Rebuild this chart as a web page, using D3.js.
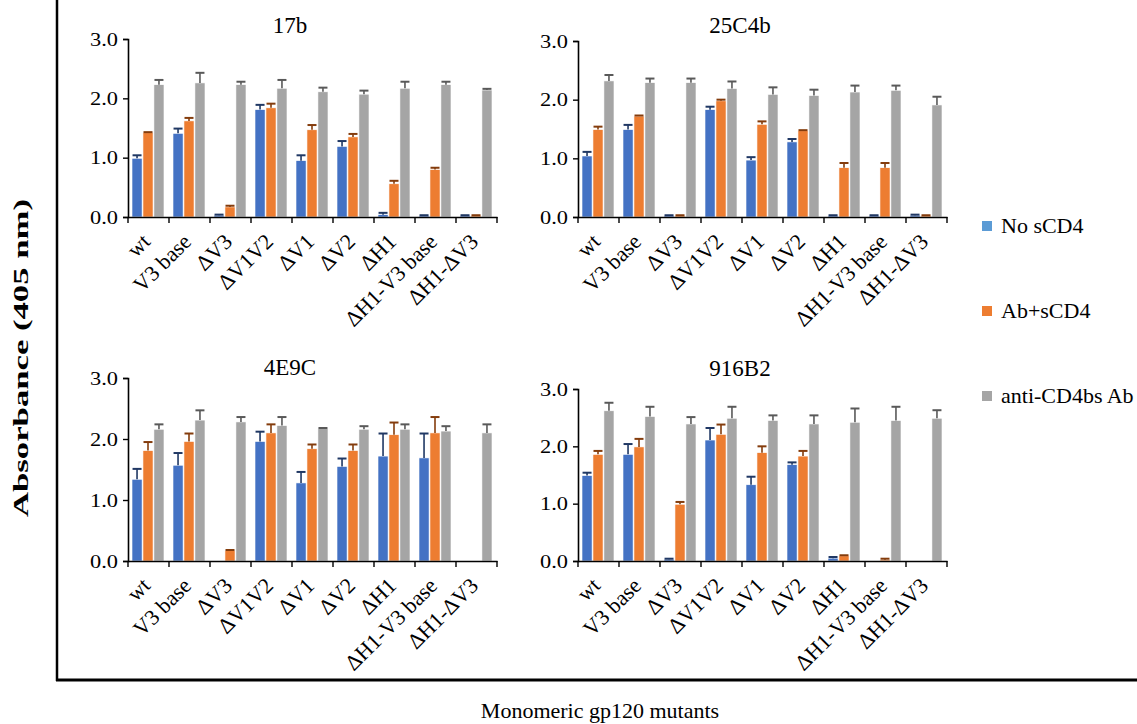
<!DOCTYPE html>
<html>
<head>
<meta charset="utf-8">
<script src="https://cdn.jsdelivr.net/npm/d3@7"></script>
<style>
  body { margin: 0; background: #fff; }
  text { font-family: "Liberation Serif", "Times New Roman", serif; fill: #000; }
</style>
</head>
<body>
<div id="plot"></div>
<script>
var width = 1137, height = 724;

var mutants = ["wt", "V3 base", "ΔV3", "ΔV1V2", "ΔV1", "ΔV2", "ΔH1", "ΔH1-V3 base", "ΔH1-ΔV3"];
var seriesNames = ["No sCD4", "Ab+sCD4", "anti-CD4bs Ab"];
var yTicks = [0, 1, 2, 3];

// 17b
var noCD4_17b      = [0.99, 1.41, 0.03, 1.81, 0.95, 1.19, 0.04, 0.02, 0.02];
var noCD4Err_17b   = [0.05, 0.08, 0.01, 0.08, 0.09, 0.09, 0.03, 0.01, 0.01];
var abCD4_17b      = [1.42, 1.62, 0.17, 1.84, 1.47, 1.35, 0.56, 0.80, 0.02];
var abCD4Err_17b   = [0.01, 0.05, 0.02, 0.07, 0.08, 0.05, 0.05, 0.03, 0.01];
var antiBs_17b     = [2.23, 2.26, 2.23, 2.17, 2.11, 2.07, 2.17, 2.23, 2.14];
var antiBsErr_17b  = [0.08, 0.17, 0.05, 0.14, 0.07, 0.06, 0.11, 0.05, 0.02];

// 25C4b
var noCD4_25C4b     = [1.04, 1.49, 0.02, 1.83, 0.97, 1.28, 0.02, 0.02, 0.03];
var noCD4Err_25C4b  = [0.07, 0.08, 0.01, 0.05, 0.05, 0.05, 0.01, 0.01, 0.01];
var abCD4_25C4b     = [1.49, 1.72, 0.02, 1.98, 1.58, 1.47, 0.84, 0.84, 0.02];
var abCD4Err_25C4b  = [0.05, 0.01, 0.01, 0.02, 0.05, 0.01, 0.08, 0.08, 0.01];
var antiBs_25C4b    = [2.32, 2.29, 2.29, 2.19, 2.09, 2.07, 2.13, 2.16, 1.91];
var antiBsErr_25C4b = [0.10, 0.07, 0.07, 0.12, 0.12, 0.10, 0.11, 0.08, 0.14];

// 4E9C
var noCD4_4E9C     = [1.34, 1.57, 0, 1.96, 1.28, 1.55, 1.72, 1.69, 0];
var noCD4Err_4E9C  = [0.17, 0.20, 0, 0.16, 0.18, 0.13, 0.37, 0.40, 0];
var abCD4_4E9C     = [1.81, 1.96, 0.17, 2.10, 1.84, 1.81, 2.07, 2.10, 0];
var abCD4Err_4E9C  = [0.14, 0.13, 0.01, 0.14, 0.07, 0.10, 0.20, 0.26, 0];
var antiBs_4E9C    = [2.16, 2.31, 2.28, 2.22, 2.17, 2.16, 2.16, 2.13, 2.10];
var antiBsErr_4E9C = [0.08, 0.16, 0.08, 0.14, 0.01, 0.05, 0.08, 0.08, 0.14];

// 916B2
var noCD4_916B2     = [1.49, 1.86, 0.03, 2.11, 1.33, 1.68, 0.05, 0, 0];
var noCD4Err_916B2  = [0.05, 0.18, 0.01, 0.21, 0.14, 0.04, 0.02, 0, 0];
var abCD4_916B2     = [1.86, 1.99, 0.99, 2.21, 1.89, 1.83, 0.09, 0.02, 0];
var abCD4Err_916B2  = [0.06, 0.14, 0.04, 0.17, 0.11, 0.09, 0.01, 0.02, 0];
var antiBs_916B2    = [2.62, 2.52, 2.39, 2.49, 2.45, 2.39, 2.42, 2.45, 2.49];
var antiBsErr_916B2 = [0.14, 0.17, 0.12, 0.20, 0.09, 0.15, 0.24, 0.24, 0.14];

var barColors = ["#4472C4", "#ED7D31", "#A5A5A5"];
var errColors = ["#203864", "#843C0C", "#595959"];
var legendColors = ["#5B9BD5", "#ED7D31", "#A5A5A5"];

var panels = [
  {title: "17b",   x0: 128, x1: 497, yTop: 39,  yBot: 217, titleY: 33,
   vals: [noCD4_17b, abCD4_17b, antiBs_17b], errs: [noCD4Err_17b, abCD4Err_17b, antiBsErr_17b]},
  {title: "25C4b", x0: 578, x1: 947, yTop: 41,  yBot: 217, titleY: 33,
   vals: [noCD4_25C4b, abCD4_25C4b, antiBs_25C4b], errs: [noCD4Err_25C4b, abCD4Err_25C4b, antiBsErr_25C4b]},
  {title: "4E9C",  x0: 128, x1: 497, yTop: 378, yBot: 561, titleY: 375,
   vals: [noCD4_4E9C, abCD4_4E9C, antiBs_4E9C], errs: [noCD4Err_4E9C, abCD4Err_4E9C, antiBsErr_4E9C]},
  {title: "916B2", x0: 578, x1: 947, yTop: 389, yBot: 561, titleY: 376,
   vals: [noCD4_916B2, abCD4_916B2, antiBs_916B2], errs: [noCD4Err_916B2, abCD4Err_916B2, antiBsErr_916B2]}
];

var svg = d3.select("#plot")
  .append("svg")
    .attr("width", width)
    .attr("height", height);

// outer frame (left + bottom)
svg.append("line")
  .attr("x1", 57).attr("y1", 0).attr("x2", 57).attr("y2", 681)
  .attr("stroke", "#000").attr("stroke-width", 2.5);
svg.append("line")
  .attr("x1", 56).attr("y1", 680).attr("x2", width).attr("y2", 680)
  .attr("stroke", "#000").attr("stroke-width", 3);

panels.forEach(function(p) {
  var xScale = d3.scaleBand()
    .domain(mutants)
    .range([p.x0, p.x1]);

  var inner = d3.scaleBand()
    .domain(d3.range(3))
    .range([4, 36])
    .paddingInner(0.08);

  var yScale = d3.scaleLinear()
    .domain([0, 3])
    .range([p.yBot, p.yTop]);

  var g = svg.append("g");

  g.append("text")
    .attr("x", p.x0 + 162)
    .attr("y", p.titleY)
    .attr("text-anchor", "middle")
    .style("font-size", "23px")
    .text(p.title);

  p.vals.forEach(function(series, s) {
    g.selectAll(".bar" + s)
      .data(series)
      .enter()
      .append("rect")
      .attr("x", (d, i) => xScale(mutants[i]) + inner(s))
      .attr("y", d => yScale(d))
      .attr("width", inner.bandwidth())
      .attr("height", d => yScale(0) - yScale(d))
      .attr("fill", barColors[s])
      .attr("stroke", "#fff")
      .attr("stroke-width", 0.6);

    // error bars, top half only
    var errs = p.errs[s];
    series.forEach(function(d, i) {
      if (d === 0 && errs[i] === 0) return;
      var cx = xScale(mutants[i]) + inner(s) + inner.bandwidth() / 2;
      var top = yScale(d + errs[i]);
      g.append("line")
        .attr("x1", cx).attr("x2", cx)
        .attr("y1", yScale(d)).attr("y2", top)
        .attr("stroke", errColors[s]).attr("stroke-width", 1.6);
      g.append("line")
        .attr("x1", cx - 4.5).attr("x2", cx + 4.5)
        .attr("y1", top).attr("y2", top)
        .attr("stroke", errColors[s]).attr("stroke-width", 2);
    });
  });

  var yAxis = g.append("g")
    .attr("transform", "translate(" + p.x0 + ",0)")
    .call(d3.axisLeft(yScale).tickValues(yTicks).tickFormat(d3.format(".1f")).tickSize(5).tickPadding(5));
  yAxis.select(".domain").attr("stroke-width", 1.6);
  yAxis.selectAll(".tick line").attr("stroke-width", 1.4);
  yAxis.selectAll("text")
    .style("font-family", "'Liberation Serif', serif")
    .style("font-size", "19px")
    .attr("textLength", 28)
    .attr("lengthAdjust", "spacingAndGlyphs");

  var xAxis = g.append("g")
    .attr("transform", "translate(0," + p.yBot + ")")
    .call(d3.axisBottom(xScale).tickSize(0).tickFormat(""));
  xAxis.select(".domain").attr("stroke-width", 1.6);

  // boundary ticks between categories
  g.selectAll(".xtick")
    .data(mutants.concat(["end"]))
    .enter()
    .append("line")
    .attr("x1", (d, i) => p.x0 + i * xScale.step())
    .attr("x2", (d, i) => p.x0 + i * xScale.step())
    .attr("y1", p.yBot)
    .attr("y2", p.yBot + 6)
    .attr("stroke", "#000")
    .attr("stroke-width", 1.4);

  g.selectAll(".xlabel")
    .data(mutants)
    .enter()
    .append("text")
    .attr("text-anchor", "end")
    .style("font-size", "22px")
    .attr("transform", d => "translate(" + (xScale(d) + xScale.bandwidth() / 2 + 3) + "," + (p.yBot + 26) + ") rotate(-45)")
    .text(d => d);
});

// legend
var legend = svg.append("g");
seriesNames.forEach(function(name, i) {
  var ly = 226 + i * 85;
  legend.append("rect")
    .attr("x", 982).attr("y", ly - 5)
    .attr("width", 10).attr("height", 10)
    .attr("fill", legendColors[i]);
  legend.append("text")
    .attr("x", 1001).attr("y", ly + 7)
    .style("font-size", "22px")
    .text(name);
});

svg.append("text")
  .attr("transform", "translate(28,358) rotate(-90)")
  .attr("text-anchor", "middle")
  .style("font-size", "20px")
  .style("font-weight", "bold")
  .attr("textLength", 318)
  .attr("lengthAdjust", "spacingAndGlyphs")
  .text("Absorbance (405 nm)");

svg.append("text")
  .attr("x", 600)
  .attr("y", 718)
  .attr("text-anchor", "middle")
  .style("font-size", "22px")
  .text("Monomeric gp120 mutants");
</script>
</body>
</html>
